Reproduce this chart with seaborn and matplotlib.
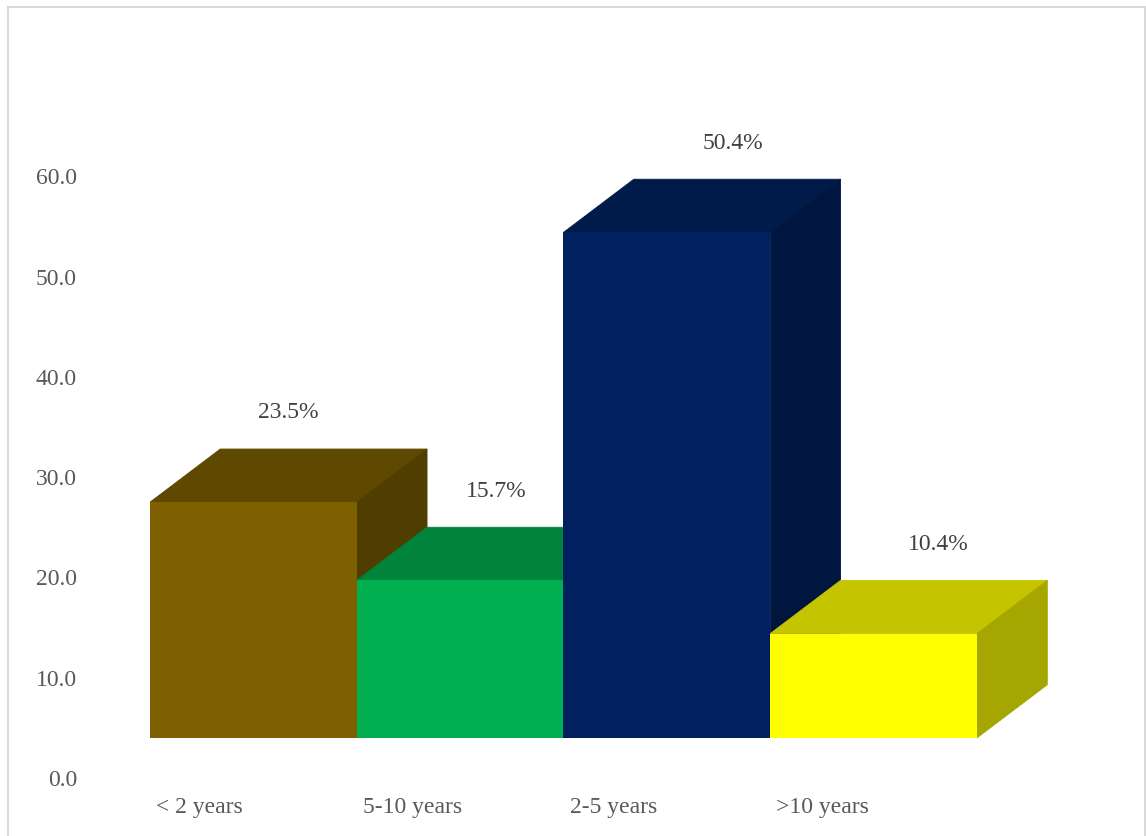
import matplotlib
matplotlib.use("Agg")
import matplotlib.pyplot as plt
from matplotlib.patches import Polygon, Rectangle
import seaborn as sns
import pandas as pd

# Data
categories = ["< 2 years", "5-10 years", "2-5 years", ">10 years"]
values = [23.5, 15.7, 50.4, 10.4]
value_labels = ["23.5%", "15.7%", "50.4%", "10.4%"]
y_ticks = [0, 10, 20, 30, 40, 50, 60]

# Face colours for each box: front, top, side
front_colors = ["#7F6000", "#00B050", "#002060", "#FFFF00"]
top_colors = ["#5F4800", "#00843C", "#001A4A", "#C4C400"]
side_colors = ["#503D00", "#006F33", "#00163F", "#A6A600"]

# 3-D box geometry (data units)
BASE = 4.0      # front floor lifted above the zero line
DEPTH_X = 0.34  # horizontal depth offset
DEPTH_Y = 5.3   # vertical depth offset
LABEL_SHIFT = [0.5, 0.52, 0.94, 0.92]  # where the value label sits along the depth

sns.set_theme(style="white")
plt.rcParams["font.family"] = ["Liberation Serif", "DejaVu Serif"]

W, H = 1146, 836
fig = plt.figure(figsize=(W / 100, H / 100), dpi=100)
ax = fig.add_axes([100 / W, (H - 778) / H, 1000 / W, 678 / H])

df = pd.DataFrame({"cat": categories, "val": values})
sns.barplot(data=df, x="cat", y="val", hue="cat", order=categories,
            hue_order=categories, palette=front_colors, saturation=1,
            width=1.0, errorbar=None, legend=False, bottom=BASE,
            linewidth=0, ax=ax)

bars = sorted(ax.patches, key=lambda p: p.get_x())
for i, p in enumerate(bars):
    z = 2 + i
    p.set_zorder(z + 0.1)
    x0 = p.get_x()
    x1 = x0 + p.get_width()
    top = p.get_y() + p.get_height()
    bot = p.get_y()
    top_face = Polygon([(x0, top), (x1, top), (x1 + DEPTH_X, top + DEPTH_Y),
                        (x0 + DEPTH_X, top + DEPTH_Y)], closed=True,
                       facecolor=top_colors[i], edgecolor=top_colors[i],
                       linewidth=0.6, zorder=z)
    side_face = Polygon([(x1, bot), (x1 + DEPTH_X, bot + DEPTH_Y),
                         (x1 + DEPTH_X, top + DEPTH_Y), (x1, top)], closed=True,
                        facecolor=side_colors[i], edgecolor=side_colors[i],
                        linewidth=0.6, zorder=z)
    ax.add_patch(top_face)
    ax.add_patch(side_face)
    ax.text(x0 + p.get_width() / 2 + DEPTH_X * LABEL_SHIFT[i],
            top + DEPTH_Y + 3.6, value_labels[i], ha="center", va="center",
            fontsize=17, color="#404040", clip_on=False, zorder=10)
    ax.text(x0 + 0.03, -2.9, categories[i], ha="left", va="center",
            fontsize=17, color="#595959", clip_on=False)

ax.set_xlim(-0.7418, 4.0949)
ax.set_ylim(0, 67.6)
ax.set_yticks(y_ticks)
ax.set_yticklabels([f"{v:.1f}" for v in y_ticks])
ax.set_xticks([])
ax.set_xlabel("")
ax.set_ylabel("")
ax.tick_params(axis="y", length=0, pad=(100 - 77) * 0.72, labelsize=17,
               labelcolor="#595959")
for s in ax.spines.values():
    s.set_visible(False)
ax.patch.set_alpha(0)

# Chart frame
fig.patches.append(Rectangle((8 / W, -0.05), (1145 - 8) / W, 1.05 - 7 / H,
                             transform=fig.transFigure, fill=False,
                             edgecolor="#D9D9D9", linewidth=1.5))

fig.savefig("out.png", dpi=100)
